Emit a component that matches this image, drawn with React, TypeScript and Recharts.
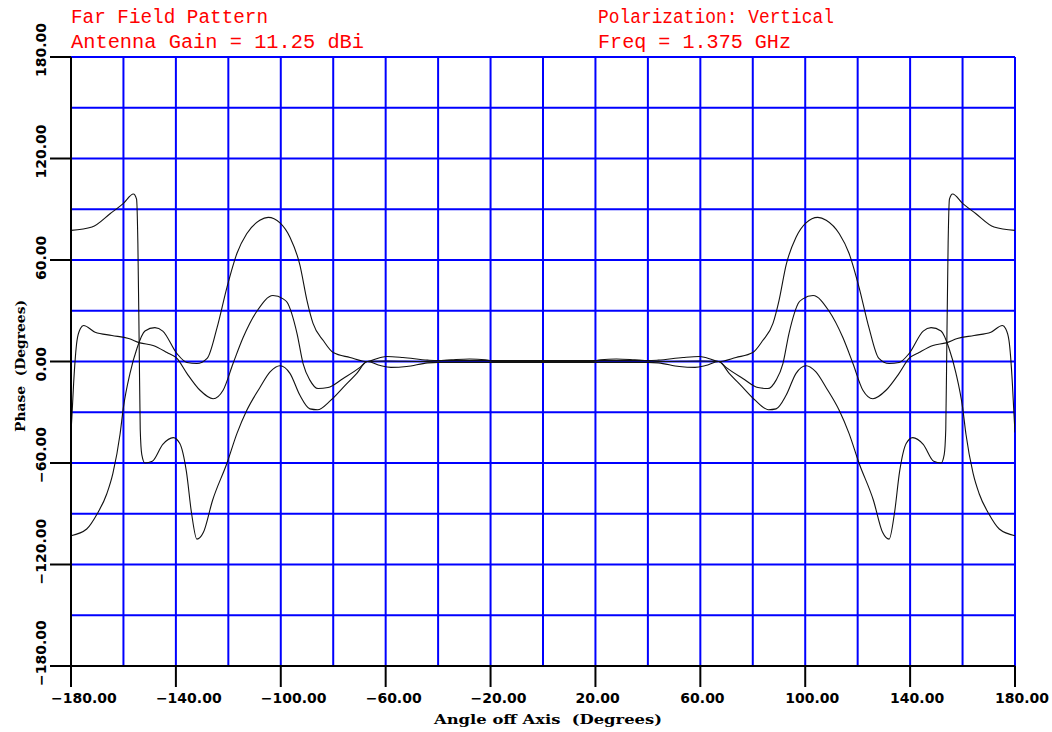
import { LineChart, Line, XAxis, YAxis, CartesianGrid } from 'recharts';

const xGridTicks = [-180, -160, -140, -120, -100, -80, -60, -40, -20, 0, 20, 40, 60, 80, 100, 120, 140, 160, 180];
const xLabelTicks = [-180, -140, -100, -60, -20, 20, 60, 100, 140, 180];
const yGridTicks = [-180, -150, -120, -90, -60, -30, 0, 30, 60, 90, 120, 150, 180];
const yLabelTicks = [-180, -120, -60, 0, 60, 120, 180];

// curve that sits near +78 deg at the edges
const curveAAngles = [
  -180, -172, -165, -160, -156.2, -155, -154.5, -154, -153.6, -153, -151.8, -149, -145, -141, -138.5, -136, -134, -132,
  -129.5, -126, -120.5, -116.7, -113, -108, -104, -100.3, -96.5, -92.7, -88.9, -86, -81, -76, -71, -67, -62, -58, -52,
  -44, -40, -20, 0,
  20, 40, 44, 52, 58, 62, 67, 71, 76, 81, 86, 88.9, 92.7, 96.5, 100.3, 104, 108, 113, 116.7, 120.5, 126, 129.5, 132,
  134, 136, 138.5, 141, 145, 149, 151.8, 153, 153.6, 154, 154.5, 155, 156.2, 160, 165, 172, 180,
];
const curveAPhase = [
  77.5, 79.5, 87.5, 93.5, 99, 96, 70, 10, -40, -55, -60, -59, -49, -45, -48.5, -65, -90, -105,
  -101, -82, -60, -42.5, -29, -15.5, -6, -2.5, -7, -20, -28, -28.5, -23, -15, -7, 0, -2.4, -3.5, -3,
  -0.8, -0.5, -0.5, -0.5,
  -0.5, -0.5, -0.8, -3, -3.5, -2.4, 0, -7, -15, -23, -28.5, -28, -20, -7, -2.5, -6, -15.5, -29, -42.5, -60, -82, -101, -105,
  -90, -65, -48.5, -45, -49, -59, -60, -55, -40, 10, 70, 96, 99, 93.5, 87.5, 79.5, 77.5,
];

// curve that starts near -103 deg at the edges
const curveBAngles = [
  -180, -174, -170, -166.3, -164, -161.3, -160, -157.5, -154.8, -151.8, -148, -145, -139.6, -135.8, -132, -128, -124.3,
  -120.5, -116.7, -113, -108, -104.8, -100.3, -96.5, -92.7, -90, -87.7, -83.8, -80, -73.6, -67, -62, -59.6, -53.4, -44,
  -40, -20, 0,
  20, 40, 44, 53.4, 59.6, 62, 67, 73.6, 80, 83.8, 87.7, 90, 92.7, 96.5, 100.3, 104.8, 108, 113, 116.7, 120.5, 124.3,
  128, 132, 135.8, 139.6, 145, 148, 151.8, 154.8, 157.5, 160, 161.3, 164, 166.3, 170, 174, 180,
];
const curveBPhase = [
  -103, -99, -90, -78, -66, -43, -27, -7, 8, 18, 20, 18, 4.7, -0.6, -1.2, 2, 20,
  44, 64, 75.5, 83.5, 85.2, 82, 73.5, 57, 36, 22.5, 12.4, 5.3, 2.4, 0, 2.4, 3, 2.4, 0.8,
  0.5, 0.5, 0.5,
  0.5, 0.5, 0.8, 2.4, 3, 2.4, 0, 2.4, 5.3, 12.4, 22.5, 36, 57, 73.5, 82, 85.2, 83.5, 75.5, 64, 44, 20,
  2, -1.2, -0.6, 4.7, 18, 20, 18, 8, -7, -27, -43, -66, -78, -90, -99, -103,
];

// curve with the sharp step right at the edges
const curveCAngles = [
  -180, -179.5, -179, -177.7, -176.4, -175.2, -170.8, -164.4, -158, -153.7, -148.7, -143.4, -139.6, -135.8, -130.8,
  -125.8, -122, -118.2, -114.4, -109, -103, -99.1, -97.6, -93.8, -91.5, -88.9, -85.8, -82, -76.2, -69.8, -67, -60, -45,
  -35, -28, -22, -18, 0,
  18, 22, 28, 35, 45, 60, 67, 69.8, 76.2, 82, 85.8, 88.9, 91.5, 93.8, 97.6, 99.1, 103, 109, 114.4, 118.2, 122, 125.8,
  130.8, 135.8, 139.6, 143.4, 148.7, 153.7, 158, 164.4, 170.8, 175.2, 176.4, 177.7, 179, 179.5, 180,
];
const curveCPhase = [
  -42, -28, -13, 12.5, 19.5, 21.3, 17.3, 15.4, 13.6, 11, 9.5, 5.3, 1.8, -7, -17,
  -22, -17, -1.2, 14, 30, 39, 37, 35, 16.5, -1.2, -11, -16, -15.4, -10, -3.5, 0, 0.3, 0,
  1, 1.5, 1, 0, 0,
  0, 1, 1.5, 1, 0, 0.3, 0, -3.5, -10, -15.4, -16, -11, -1.2, 16.5, 35, 37, 39, 30, 14, -1.2, -17, -22,
  -17, -7, 1.8, 5.3, 9.5, 11, 13.6, 15.4, 17.3, 21.3, 19.5, 12.5, -13, -28, -42,
];

const toPoints = (angles: number[], phases: number[]) => angles.map((angle, i) => ({ angle, phase: phases[i] }));

const curveA = toPoints(curveAAngles, curveAPhase);
const curveB = toPoints(curveBAngles, curveBPhase);
const curveC = toPoints(curveCAngles, curveCPhase);

const fmt = (v: number) => (v < 0 ? '\u2212' + Math.abs(v).toFixed(2) : v.toFixed(2));

const tickFont = { fontFamily: 'DejaVu Sans', fontWeight: 'bold' as const, fontSize: 14 };

function XTick(props: any) {
  const { x, y, payload } = props;
  if (!xLabelTicks.includes(payload.value)) return <g />;
  return (
    <g>
      <line x1={x} y1={y} x2={x} y2={y + 21} stroke="#000" strokeWidth={2} />
      <text x={x - 20} y={y + 37} fill="#000" {...tickFont}>
        {fmt(payload.value)}
      </text>
    </g>
  );
}

function YTick(props: any) {
  const { x, y, payload } = props;
  if (!yLabelTicks.includes(payload.value)) return <g />;
  const tx = x - 25;
  const ty = y + 20;
  return (
    <g>
      <line x1={x - 21} y1={y} x2={x} y2={y} stroke="#000" strokeWidth={2} />
      <text x={tx} y={ty} transform={`rotate(-90 ${tx} ${ty})`} fill="#000" {...tickFont}>
        {fmt(payload.value)}
      </text>
    </g>
  );
}

const titleStyle = { fontFamily: 'Liberation Mono', fontSize: 20, fill: '#ff0000' };
const lineStyle = { stroke: '#111', strokeWidth: 1.1 };

export default function App() {
  return (
    <div style={{ position: 'absolute', left: 0, top: 0, width: 1052, height: 732, background: '#fff' }}>
      <LineChart width={1052} height={732} margin={{ top: 57, right: 37, bottom: 0, left: 0 }}>
        <CartesianGrid stroke="#0000ff" strokeWidth={2} />
        <XAxis
          type="number"
          dataKey="angle"
          domain={[-180, 180]}
          ticks={xGridTicks}
          interval={0}
          height={66}
          tickSize={0}
          tickMargin={0}
          tickLine={false}
          axisLine={{ stroke: '#000', strokeWidth: 2 }}
          tick={XTick}
          allowDataOverflow
        />
        <YAxis
          type="number"
          dataKey="phase"
          domain={[-180, 180]}
          ticks={yGridTicks}
          interval={0}
          width={71}
          tickSize={0}
          tickMargin={0}
          tickLine={false}
          axisLine={{ stroke: '#000', strokeWidth: 2 }}
          tick={YTick}
          allowDataOverflow
        />
        <Line data={curveA} dataKey="phase" type="monotone" {...lineStyle} dot={false} isAnimationActive={false} />
        <Line data={curveB} dataKey="phase" type="monotone" {...lineStyle} dot={false} isAnimationActive={false} />
        <Line data={curveC} dataKey="phase" type="monotone" {...lineStyle} dot={false} isAnimationActive={false} />
      </LineChart>
      <svg width={1052} height={732} style={{ position: 'absolute', left: 0, top: 0, pointerEvents: 'none' }}>
        <text x={71} y={23} textLength={197} lengthAdjust="spacingAndGlyphs" {...titleStyle}>Far Field Pattern</text>
        <text x={71} y={48} textLength={293} lengthAdjust="spacingAndGlyphs" {...titleStyle}>Antenna Gain = 11.25 dBi</text>
        <text x={598} y={23} textLength={236} lengthAdjust="spacingAndGlyphs" {...titleStyle}>Polarization: Vertical</text>
        <text x={598} y={48} textLength={193} lengthAdjust="spacingAndGlyphs" {...titleStyle}>Freq = 1.375 GHz</text>
        <text
          x={434}
          y={724}
          textLength={228}
          lengthAdjust="spacingAndGlyphs"
          style={{ whiteSpace: 'pre' }}
          fontFamily="DejaVu Serif"
          fontWeight="bold"
          fontSize={13}
          fill="#000"
        >
          Angle off Axis  (Degrees)
        </text>
        <text
          x={25}
          y={366}
          transform="rotate(-90 25 366)"
          textAnchor="middle"
          textLength={132}
          lengthAdjust="spacingAndGlyphs"
          style={{ whiteSpace: 'pre' }}
          fontFamily="DejaVu Serif"
          fontWeight="bold"
          fontSize={13}
          fill="#000"
        >
          Phase  (Degrees)
        </text>
      </svg>
    </div>
  );
}
